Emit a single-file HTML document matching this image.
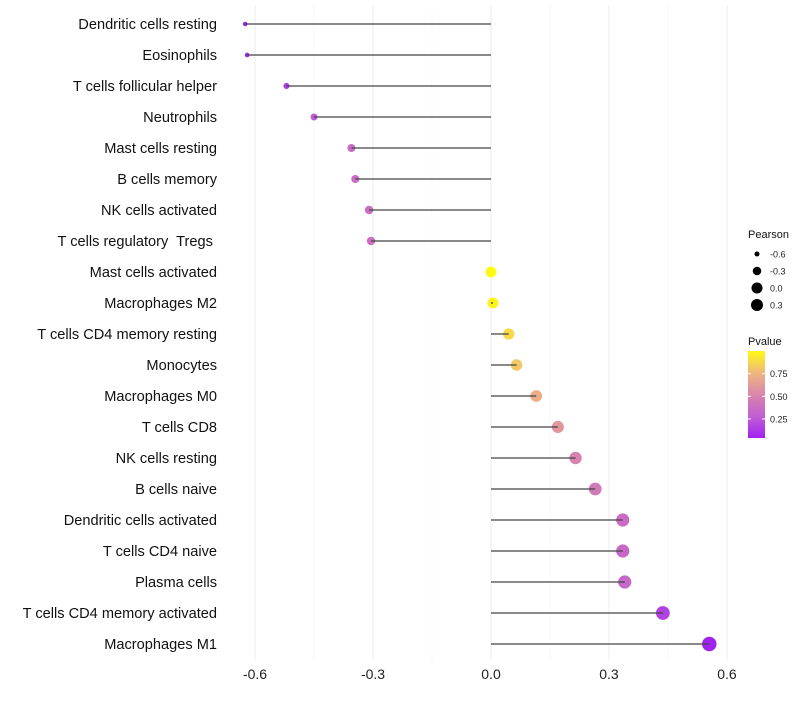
<!DOCTYPE html>
<html><head><meta charset="utf-8"><style>
body{margin:0;background:#fff;font-family:"Liberation Sans",sans-serif;}
text{white-space:pre;}
</style></head><body>
<svg id="chart" width="800" height="700" xmlns="http://www.w3.org/2000/svg"></svg>
<script>
const categories=["Dendritic cells resting","Eosinophils","T cells follicular helper","Neutrophils","Mast cells resting","B cells memory","NK cells activated","T cells regulatory  Tregs ","Mast cells activated","Macrophages M2","T cells CD4 memory resting","Monocytes","Macrophages M0","T cells CD8","NK cells resting","B cells naive","Dendritic cells activated","T cells CD4 naive","Plasma cells","T cells CD4 memory activated","Macrophages M1"];
const pearson=[-0.625,-0.62,-0.52,-0.45,-0.355,-0.345,-0.31,-0.305,0.0,0.005,0.045,0.065,0.115,0.17,0.215,0.265,0.335,0.335,0.34,0.437,0.555];
const pvalues=[0.05,0.06,0.14,0.26,0.36,0.36,0.38,0.38,1.0,0.98,0.88,0.82,0.72,0.6,0.5,0.45,0.36,0.34,0.33,0.16,0.05];
const xTicks=[-0.6,-0.3,0.0,0.3,0.6];
const xTickLabels=["-0.6","-0.3","0.0","0.3","0.6"];
const sizeLegend=[-0.6,-0.3,0.0,0.3];
const colorTicks=[0.75,0.5,0.25];

const NS="http://www.w3.org/2000/svg";
const svg=document.getElementById('chart');
const x=v=>491+v*393.3;
const y=i=>24+i*31;
const r=v=>Math.sqrt(Math.max(2,30.25+40*v));
const cStops=[[0.04,[160,32,240]],[0.25,[190,90,215]],[0.5,[215,130,175]],[0.75,[238,180,130]],[1.0,[255,250,20]]];
function col(p){p=Math.max(0.04,Math.min(1,p));
 for(let k=1;k<cStops.length;k++){const [pa,ca]=cStops[k-1],[pb,cb]=cStops[k];
  if(p<=pb){const t=(p-pa)/(pb-pa);return `rgb(${ca.map((c,j)=>Math.round(c+(cb[j]-c)*t))})`;}}
 return 'rgb(255,250,20)';}
function el(t,a,p){const e=document.createElementNS(NS,t);for(const k in a)e.setAttribute(k,a[k]);(p||svg).appendChild(e);return e;}

[-0.45,-0.15,0.15,0.45].forEach(v=>{const g=el('line',{x1:x(v),x2:x(v),y1:5,y2:660,stroke:'#f5f5f5','stroke-width':0.6});

});
xTicks.forEach((v,i)=>{const g=el('line',{x1:x(v),x2:x(v),y1:5,y2:660,stroke:'#ebebeb','stroke-width':1});


const t=el('text',{x:x(v),y:679,'text-anchor':'middle','font-size':14,fill:'#222'});t.textContent=xTickLabels[i];

});
categories.forEach((c,i)=>{
 const t=el('text',{x:217,y:y(i)+5,'text-anchor':'end','font-size':14.6,fill:'#111'});t.textContent=c;
 
 
 const d=el('circle',{cx:x(pearson[i]),cy:y(i),r:r(pearson[i]),fill:col(pvalues[i])});
 
 
 const s=el('line',{x1:x(0),x2:x(pearson[i]),y1:y(i),y2:y(i),stroke:'#444','stroke-width':1.3});
 
 
});
const lt=el('text',{x:748,y:238,'font-size':11,fill:'#111'});lt.textContent='Pearson';


sizeLegend.forEach((v,i)=>{const cy=254+i*17;
 const c=el('circle',{cx:757,cy:cy,r:Math.min(r(v),6),fill:'#000'});
 
 
 const t=el('text',{x:770,y:cy+3.5,'font-size':9,fill:'#222'});t.textContent=(v===0?'0.0':v.toFixed(1));
 
 });
const ct=el('text',{x:748,y:345,'font-size':11,fill:'#111'});ct.textContent='Pvalue';


const defs=el('defs',{});const lg=el('linearGradient',{id:'pg',x1:0,y1:1,x2:0,y2:0},defs);
[0,0.125,0.25,0.375,0.5,0.625,0.75,0.875,1].forEach(o=>el('stop',{offset:o,'stop-color':col(0.04+o*0.96)},lg));
const cb=el('rect',{x:748,y:351,width:17,height:87,fill:'url(#pg)'});


const cy0=438,cy1=351,p0=0.04,p1=1.0;
colorTicks.forEach(p=>{const yy=cy0-(p-p0)/(p1-p0)*(cy0-cy1);
 el('line',{x1:748,x2:751,y1:yy,y2:yy,stroke:'#fff'});el('line',{x1:762,x2:765,y1:yy,y2:yy,stroke:'#fff'});
 const t=el('text',{x:770,y:yy+3.5,'font-size':9,fill:'#222'});t.textContent=p.toFixed(2);
 
 });
</script>
</body></html>
